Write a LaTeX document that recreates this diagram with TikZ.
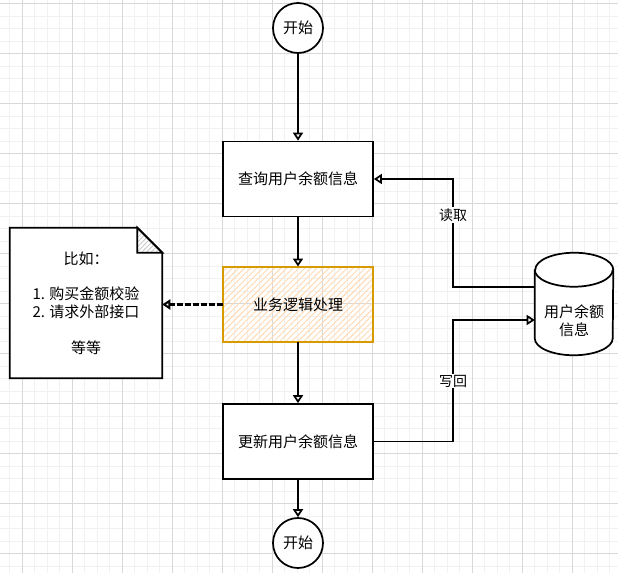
\documentclass[tikz,border=0pt]{standalone}
\usepackage{fontspec}
\setmainfont{Noto Sans CJK SC}
\usetikzlibrary{arrows.meta,patterns.meta,calc}

\definecolor{gridminor}{RGB}{241,241,241}
\definecolor{gridmajor}{RGB}{216,216,216}
\definecolor{bizline}{RGB}{215,155,0}
\definecolor{bizhatch}{RGB}{255,218,180}

\begin{document}
\begin{tikzpicture}[x=0.75pt,y=0.75pt,yscale=-1,xscale=1,
  every node/.style={font=\fontsize{11.25pt}{13.4pt}\selectfont},
  flowbox/.style={draw, line width=1.3pt, fill=white, minimum width=112.5pt, minimum height=56.25pt, inner sep=0pt},
  termnode/.style={draw, circle, line width=1.3pt, fill=white, minimum size=37.5pt, inner sep=0pt},
  arr/.style={line width=1.3pt, -{Triangle[open,length=6pt,width=7.5pt]}},
  edgelabel/.style={fill=white, inner sep=1pt, font=\fontsize{10.5pt}{12pt}\selectfont}]
\useasboundingbox (0,0) rectangle (618,573);

%Background grid
\fill[white] (0,0) rectangle (618,573);
\foreach \gx in {9.5,22,...,618} \draw[gridminor, line width=0.75pt] (\gx,0) -- (\gx,573);
\foreach \gy in {4,16.5,...,573} \draw[gridminor, line width=0.75pt] (0,\gy) -- (618,\gy);
\foreach \gx in {22,72,...,618} \draw[gridmajor, line width=0.75pt] (\gx,0) -- (\gx,573);
\foreach \gy in {4,54,...,573} \draw[gridmajor, line width=0.75pt] (0,\gy) -- (618,\gy);

% Text Node
\node[termnode] (start) at (298,28) {开始};
%Shape: Rectangle
\node[flowbox] (query) at (298,179) {查询用户余额信息};
%Shape: Rectangle
\node[flowbox, draw=bizline, fill=none,
  pattern={Lines[angle=45,distance=3.2pt,line width=0.7pt]}, pattern color=bizhatch] (biz) at (298,304.5) {业务逻辑处理};
%Shape: Rectangle
\node[flowbox] (update) at (298,441.5) {更新用户余额信息};
% Text Node
\node[termnode] (finish) at (298,543) {开始};

%Shape: Note
\node[minimum width=114pt, minimum height=112.5pt, inner sep=0pt, align=center] (note) at (86,303) {};
\draw[line width=1.3pt, fill=white] (note.south west) -- (note.north west) -- ($(note.north east)+(-25,0)$)
  -- ($(note.north east)+(0,25)$) -- (note.south east) -- cycle;
\draw[line width=1.3pt, pattern={Lines[angle=45,distance=2.5pt,line width=0.5pt]}, pattern color=gray!50]
  ($(note.north east)+(-25,0)$) -- ($(note.north east)+(-25,25)$) -- ($(note.north east)+(0,25)$) -- cycle;
\node[align=center] at (note.center) {比如：\\[13.4pt]1. 购买金额校验\\2. 请求外部接口\\[13.4pt]等等};

%Shape: Cylinder
\node[minimum width=58.5pt, minimum height=76.5pt, inner sep=0pt, align=center] (db) at (574,304) {};
\draw[line width=1.3pt, fill=white] ($(db.north west)+(0,17)$) -- ($(db.south west)+(0,-17)$)
  arc[start angle=180, end angle=0, x radius=39, y radius=17] -- ($(db.north east)+(0,17)$)
  arc[start angle=0, end angle=-180, x radius=39, y radius=17];
\draw[line width=1.3pt] ($(db.north west)+(0,17)$) arc[start angle=180, end angle=0, x radius=39, y radius=17];
\node[align=center] at ($(db.center)+(0,17)$) {用户余额\\信息};

%Straight Lines
\draw[arr] (start) -- (query);
\draw[arr] (query) -- (biz);
\draw[arr] (biz) -- (update);
\draw[arr] (update) -- (finish);
\draw[arr, line width=1.6pt, dash pattern={on 4pt off 2pt}] (biz.west) -- (note.east |- biz.west);

%Connectors
\coordinate (readbend) at (453,287);
\coordinate (writebend) at (453,320);
\draw[arr] (db.west |- readbend) -- (readbend) |- (query.east);
\draw[arr] (update.east) -| (writebend) -- (db.west |- writebend);

% Text Node
\node[edgelabel] at (453,215) {读取};
% Text Node
\node[edgelabel] at (453,381) {写回};

\end{tikzpicture}
\end{document}
